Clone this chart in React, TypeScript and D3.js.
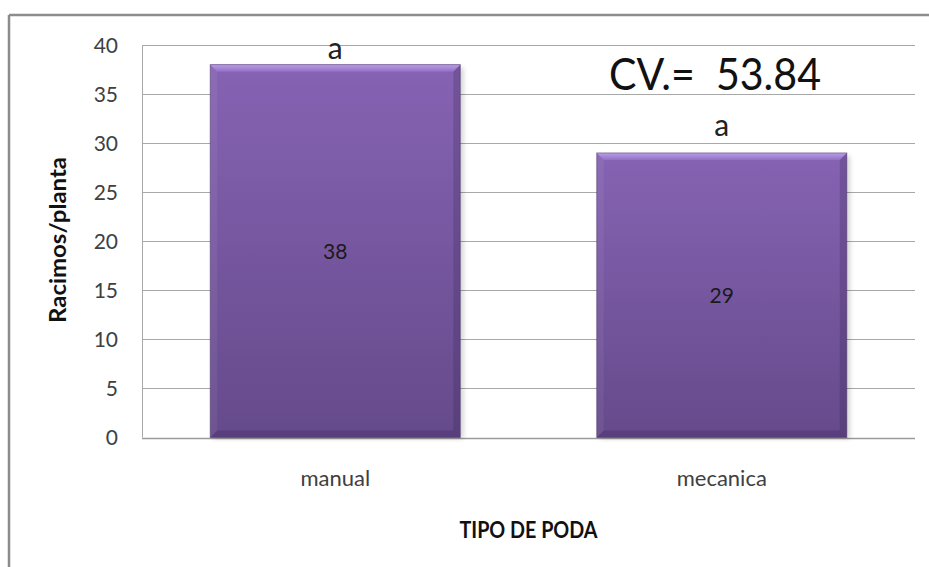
import React from "react";
import * as d3 from "d3";

const categories = ["manual", "mecanica"];
const values = [38, 29];
const valueLabels = ["38", "29"];
const letters = ["a", "a"];
const letterLevels = [38.6, 30.7];
const yTicks = [0, 5, 10, 15, 20, 25, 30, 35, 40];
const cvText = "CV.=  53.84";
const yTitle = "Racimos/planta";
const xTitle = "TIPO DE PODA";

const W = 929;
const H = 567;
const plot = { left: 142, right: 915, top: 45, bottom: 437.5 };
const FONT = "Lato, 'Open Sans', sans-serif";

export default function App() {
  const y = d3.scaleLinear().domain([0, 40]).range([plot.bottom, plot.top]);
  const x = d3
    .scaleBand<string>()
    .domain(categories)
    .range([plot.left, plot.right])
    .paddingInner(0.353)
    .paddingOuter(0.1765);
  const bw = x.bandwidth();
  const bev = 7;

  return (
    <svg
      width={W}
      height={H}
      style={{ position: "absolute", left: 0, top: 0, display: "block", background: "#fff" }}
      fontFamily={FONT}
    >
      <defs>
        <linearGradient id="barFill" x1="0" y1="0" x2="0" y2="1">
          <stop offset="0" stopColor="#8663b3" />
          <stop offset="1" stopColor="#654a8b" />
        </linearGradient>
        <linearGradient id="topBev" x1="0" y1="0" x2="0" y2="1">
          <stop offset="0" stopColor="#bb9dea" />
          <stop offset="1" stopColor="#9370c4" />
        </linearGradient>
        <filter id="shadow" x="-10%" y="-10%" width="130%" height="130%">
          <feGaussianBlur stdDeviation="2.5" />
        </filter>
      </defs>

      {/* outer frame */}
      <line x1={9} y1={15} x2={W + 5} y2={15} stroke="#8c8c8c" strokeWidth={2.5} />
      <line x1={9} y1={15} x2={9} y2={H + 5} stroke="#8c8c8c" strokeWidth={2.5} />

      {/* gridlines */}
      {yTicks.map((t) => (
        <line
          key={t}
          x1={plot.left}
          x2={plot.right}
          y1={Math.round(y(t)) + 0.5}
          y2={Math.round(y(t)) + 0.5}
          stroke={t === 0 ? "#9a9a9a" : "#a8a8a8"}
          strokeWidth={t === 0 ? 1.5 : 1}
        />
      ))}
      <line x1={plot.left + 0.5} x2={plot.left + 0.5} y1={plot.top} y2={plot.bottom} stroke="#a8a8a8" />

      {/* tick labels */}
      {yTicks.map((t) => (
        <text
          key={t}
          x={118}
          y={y(t)}
          dy="0.36em"
          textAnchor="end"
          fontSize={21}
          fill="#404040"
        >
          {t}
        </text>
      ))}

      {/* bars */}
      {categories.map((c, i) => {
        const x0 = x(c)!;
        const x1 = x0 + bw;
        const y0 = y(values[i]);
        const y1 = y(0);
        return (
          <g key={c}>
            <rect x={x0 + 3} y={y0 + 3} width={bw} height={y1 - y0 - 2} fill="#000" opacity={0.18} filter="url(#shadow)" />
            <rect x={x0} y={y0} width={bw} height={y1 - y0} fill="url(#barFill)" />
            <polygon
              points={`${x0},${y0} ${x1},${y0} ${x1 - bev},${y0 + bev} ${x0 + bev},${y0 + bev}`}
              fill="url(#topBev)"
            />
            <polygon
              points={`${x0},${y0} ${x0 + bev},${y0 + bev} ${x0 + bev},${y1 - bev} ${x0},${y1}`}
              fill="#ffffff"
              opacity={0.06}
            />
            <polygon
              points={`${x1},${y0} ${x1 - bev},${y0 + bev} ${x1 - bev},${y1 - bev} ${x1},${y1}`}
              fill="#2a1a40"
              opacity={0.2}
            />
            <polygon
              points={`${x0},${y1} ${x0 + bev},${y1 - bev} ${x1 - bev},${y1 - bev} ${x1},${y1}`}
              fill="#3a2658"
              opacity={0.3}
            />
            <rect x={x0} y={y0} width={bw} height={y1 - y0} fill="none" stroke="#4a3468" strokeOpacity={0.5} strokeWidth={1} />
            <text
              x={x0 + bw / 2}
              y={(y0 + y1) / 2}
              dy="0.36em"
              textAnchor="middle"
              fontSize={21}
              fill="#1a1a1a"
            >
              {valueLabels[i]}
            </text>
            <text
              x={x0 + bw / 2}
              y={y(letterLevels[i])}
              textAnchor="middle"
              fontSize={30}
              fill="#222"
            >
              {letters[i]}
            </text>
            <text
              x={x0 + bw / 2}
              y={486}
              textAnchor="middle"
              fontSize={22}
              fill="#404040"
            >
              {c}
            </text>
          </g>
        );
      })}

      {/* CV annotation */}
      <text
        x={609}
        y={90}
        fontSize={44}
        fill="#111"
        textLength={212}
        lengthAdjust="spacingAndGlyphs"
        style={{ whiteSpace: "pre" }}
        xmlSpace="preserve"
      >
        {cvText}
      </text>

      {/* axis titles */}
      <text
        transform={`translate(66, 240) rotate(-90)`}
        textAnchor="middle"
        fontSize={22}
        fontWeight="bold"
        fill="#111"
        textLength={166}
        lengthAdjust="spacingAndGlyphs"
      >
        {yTitle}
      </text>
      <text
        x={(plot.left + plot.right) / 2}
        y={538}
        textAnchor="middle"
        fontSize={22}
        fontWeight="bold"
        fill="#111"
        textLength={138}
        lengthAdjust="spacingAndGlyphs"
      >
        {xTitle}
      </text>
    </svg>
  );
}
